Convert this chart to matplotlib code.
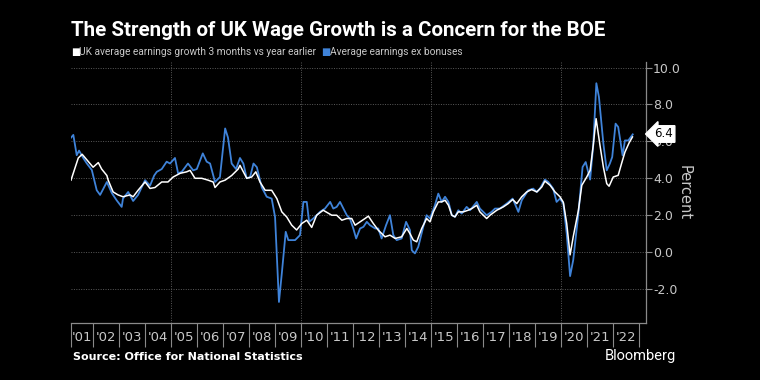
import matplotlib
matplotlib.use("Agg")
import matplotlib.pyplot as plt
import numpy as np

# white line: UK average earnings growth, 3 months vs year earlier (decimal year, percent)
total_x = [2001.15, 2001.43, 2001.58, 2001.76, 2002.0, 2002.2, 2002.33, 2002.53, 2002.58, 2002.77,
           2002.96, 2003.15, 2003.42, 2003.54, 2003.73, 2004.0, 2004.19, 2004.38, 2004.64, 2004.88,
           2005.08, 2005.35, 2005.6, 2005.73, 2005.92, 2006.18, 2006.42, 2006.62, 2006.69, 2006.88,
           2007.08, 2007.33, 2007.58, 2007.65, 2007.91, 2008.1, 2008.26, 2008.42, 2008.62, 2008.87,
           2009.07, 2009.26, 2009.45, 2009.64, 2009.83, 2010.03, 2010.22, 2010.41, 2010.6, 2010.85,
           2011.18, 2011.37, 2011.57, 2011.76, 2011.95, 2012.08, 2012.27, 2012.46, 2012.59, 2012.78,
           2012.97, 2013.23, 2013.42, 2013.62, 2013.87, 2014.07, 2014.19, 2014.32, 2014.45, 2014.64,
           2014.83, 2014.96, 2015.09, 2015.28, 2015.41, 2015.54, 2015.67, 2015.8, 2015.92, 2016.05,
           2016.24, 2016.43, 2016.57, 2016.76, 2016.88, 2017.14, 2017.27, 2017.53, 2017.78, 2017.97,
           2018.14, 2018.3, 2018.49, 2018.68, 2018.87, 2019.07, 2019.26, 2019.38, 2019.58, 2019.77,
           2019.96, 2020.09, 2020.22, 2020.35, 2020.47, 2020.67, 2020.8, 2020.99, 2021.12, 2021.24,
           2021.35, 2021.5, 2021.63, 2021.76, 2021.85, 2022.01, 2022.2, 2022.33, 2022.46, 2022.62,
           2022.75]
total_pay = [3.9, 5.1, 5.3, 5.0, 4.6, 4.85, 4.5, 4.15, 3.9, 3.26,
             3.1, 3.0, 3.1, 3.0, 3.35, 3.8, 3.45, 3.5, 3.8, 3.8,
             4.07, 4.27, 4.35, 4.43, 4.0, 4.0, 3.9, 3.8, 3.5, 3.8,
             3.9, 4.15, 4.5, 4.7, 4.0, 4.07, 4.35, 3.8, 3.35, 3.35,
             2.9, 2.18, 1.9, 1.46, 1.2, 1.55, 1.73, 1.34, 2.0, 2.27,
             2.0, 2.0, 1.73, 1.82, 1.82, 1.46, 1.64, 1.82, 1.95, 1.55,
             1.19, 0.83, 0.92, 0.74, 0.83, 1.28, 1.0, 0.65, 0.56, 1.28,
             1.82, 1.64, 2.18, 2.72, 2.72, 2.81, 2.54, 2.0, 1.91, 2.18,
             2.18, 2.27, 2.36, 2.54, 2.18, 1.82, 2.0, 2.27, 2.45, 2.63,
             2.85, 2.63, 3.0, 3.26, 3.39, 3.26, 3.53, 3.85, 3.62, 3.26,
             3.0, 2.7, 1.55, -0.15, 0.83, 2.27, 3.62, 4.07, 4.43, 5.78,
             7.23, 5.78, 4.61, 3.71, 3.57, 4.07, 4.16, 4.8, 5.42, 5.92,
             6.24]

# blue line: average earnings ex bonuses
regular_x = [2001.15, 2001.24, 2001.37, 2001.46, 2001.62, 2001.76, 2001.95, 2002.14, 2002.27, 2002.53,
             2002.72, 2002.91, 2003.1, 2003.15, 2003.35, 2003.54, 2003.73, 2004.0, 2004.19, 2004.35,
             2004.45, 2004.64, 2004.83, 2004.96, 2005.15, 2005.27, 2005.41, 2005.65, 2005.85, 2005.99,
             2006.22, 2006.37, 2006.5, 2006.69, 2006.88, 2007.08, 2007.19, 2007.33, 2007.5, 2007.65,
             2007.78, 2007.91, 2008.04, 2008.17, 2008.3, 2008.49, 2008.68, 2008.87, 2009.0, 2009.15,
             2009.26, 2009.41, 2009.51, 2009.77, 2009.96, 2010.09, 2010.22, 2010.31, 2010.47, 2010.73,
             2010.92, 2011.12, 2011.24, 2011.37, 2011.5, 2011.63, 2011.76, 2011.88, 2012.01, 2012.12,
             2012.27, 2012.4, 2012.53, 2012.65, 2012.85, 2012.97, 2013.1, 2013.27, 2013.42, 2013.55,
             2013.68, 2013.87, 2014.04, 2014.19, 2014.26, 2014.38, 2014.51, 2014.7, 2014.83, 2014.96,
             2015.15, 2015.28, 2015.41, 2015.54, 2015.67, 2015.8, 2015.92, 2016.05, 2016.18, 2016.37,
             2016.5, 2016.76, 2016.88, 2017.14, 2017.33, 2017.46, 2017.65, 2017.91, 2018.14, 2018.36,
             2018.49, 2018.74, 2018.93, 2019.07, 2019.19, 2019.38, 2019.51, 2019.7, 2019.83, 2019.96,
             2020.09, 2020.22, 2020.35, 2020.47, 2020.67, 2020.83, 2020.95, 2021.03, 2021.12, 2021.24,
             2021.36, 2021.46, 2021.63, 2021.76, 2021.88, 2021.97, 2022.1, 2022.2, 2022.37, 2022.46,
             2022.59, 2022.76]
regular_pay = [6.2, 6.35, 5.25, 5.5, 5.1, 4.8, 4.45, 3.35, 3.1, 3.8,
               3.2, 2.8, 2.45, 2.9, 3.26, 2.77, 3.1, 3.9, 3.6, 4.15,
               4.35, 4.5, 4.9, 4.8, 5.1, 4.27, 4.35, 4.8, 4.43, 4.5,
               5.35, 4.9, 4.8, 3.8, 4.07, 6.7, 6.2, 4.8, 4.5, 5.1,
               4.8, 4.0, 4.07, 4.8, 4.6, 3.5, 3.0, 2.9, 1.9, -2.7,
               -1.15, 1.1, 0.65, 0.65, 0.92, 2.72, 2.72, 1.64, 1.82, 2.18,
               2.36, 2.72, 2.36, 2.45, 2.72, 2.36, 2.0, 1.82, 1.28, 0.74,
               1.28, 1.37, 1.64, 1.46, 1.28, 1.28, 0.74, 1.46, 2.0, 0.92,
               0.65, 0.74, 1.64, 1.19, 0.1, -0.07, 0.29, 1.37, 2.0, 1.82,
               2.54, 3.17, 2.72, 3.0, 2.72, 2.0, 1.91, 2.27, 2.09, 2.45,
               2.27, 2.72, 2.36, 2.0, 2.18, 2.36, 2.36, 2.63, 2.9, 2.18,
               2.81, 3.35, 3.44, 3.26, 3.44, 3.93, 3.8, 3.44, 2.72, 2.9,
               2.63, 1.0, -1.3, -0.43, 2.1, 4.61, 4.88, 4.43, 3.93, 5.78,
               9.15, 8.4, 5.88, 4.43, 4.8, 5.15, 6.96, 6.78, 5.24, 6.05,
               6.05, 6.38]

last_value = 6.4
year_edges = [2001.15] + list(range(2002, 2024))
year_labels = ["'%02d" % (y % 100) for y in range(2001, 2023)]
y_ticks = [-2, 0, 2, 4, 6, 8, 10]

BLUE = "#3f83d9"
GRID = "#5a5a5a"
TXT = "#c8c8c8"

fig = plt.figure(figsize=(7.6, 3.8), dpi=100, facecolor="black")
ax = fig.add_axes([71 / 760, 1 - 323 / 380, (646 - 71) / 760, (323 - 62) / 380])
ax.set_facecolor("black")

ax.plot(regular_x, regular_pay, color=BLUE, lw=1.3, zorder=3)
ax.plot(total_x, total_pay, color="white", lw=1.1, zorder=4)

ax.set_xlim(2001.15, 2023.27)
ax.set_ylim(-3.84, 10.3)

# grid
for v in y_ticks:
    ax.axhline(v, color=GRID, lw=0.7, ls=(0, (1, 1.5)), zorder=1)
for v in [2005, 2010, 2015, 2020]:
    ax.axvline(v, color=GRID, lw=0.7, ls=(0, (1, 1.5)), zorder=1)

# spines
for s in ["top", "left"]:
    ax.spines[s].set_visible(False)
for s in ["bottom", "right"]:
    ax.spines[s].set_color("#8a8a8a")
    ax.spines[s].set_linewidth(0.9)

# x axis: long ticks at year edges, labels in between
ax.set_xticks(year_edges)
ax.set_xticklabels([])
ax.tick_params(axis="x", which="major", length=17, color="#8a8a8a", width=0.8)
mids = [(a + b) / 2 for a, b in zip(year_edges[:-1], year_edges[1:])]
ax.set_xticks(mids, minor=True)
ax.set_xticklabels(year_labels, minor=True)
ax.tick_params(axis="x", which="minor", length=0, pad=6, labelsize=9.5, labelcolor=TXT)

# y axis on right
ax.yaxis.tick_right()
ax.set_yticks(y_ticks)
ax.set_yticklabels(["%.1f" % v for v in y_ticks])
ax.tick_params(axis="y", length=4, color="#8a8a8a", labelsize=9, labelcolor=TXT, pad=1)
ax.yaxis.set_label_position("right")
ax.set_ylabel("Percent", color=TXT, fontsize=10.5, rotation=270, labelpad=8)

# last value tag (covers the 6.0 label, as in the original)
ax.annotate("%.1f" % last_value, xy=(1.0, last_value), xycoords=("axes fraction", "data"),
            xytext=(6, 0), textcoords="offset points", ha="left", va="center",
            fontsize=8.5, color="black",
            bbox=dict(boxstyle="larrow,pad=0.15", fc="white", ec="white"), zorder=6,
            annotation_clip=False)

# title, legend, source
fig.text(71 / 760, 1 - 30 / 380, "The Strength of UK Wage Growth is a Concern for the BOE",
         color="white", fontsize=14.8, fontweight="bold", family="Roboto", va="center")
fig.text(71 / 760, 1 - 52 / 380, "\u25A0", color="white", fontsize=7, va="center")
fig.text(79 / 760, 1 - 52 / 380, "UK average earnings growth 3 months vs year earlier",
         color=TXT, fontsize=7.3, va="center", family="Roboto")
fig.text(321 / 760, 1 - 52 / 380, "\u25A0", color=BLUE, fontsize=7, va="center")
fig.text(330 / 760, 1 - 52 / 380, "Average earnings ex bonuses",
         color=TXT, fontsize=7.3, va="center", family="Roboto")
fig.text(73 / 760, 1 - 357 / 380, "Source: Office for National Statistics",
         color="white", fontsize=8, fontweight="bold", va="center")
fig.text(676 / 760, 1 - 356 / 380, "Bloomberg", color="white", fontsize=10.5,
         va="center", ha="right", family="Roboto")

fig.savefig("out.png", dpi=100, facecolor="black")
